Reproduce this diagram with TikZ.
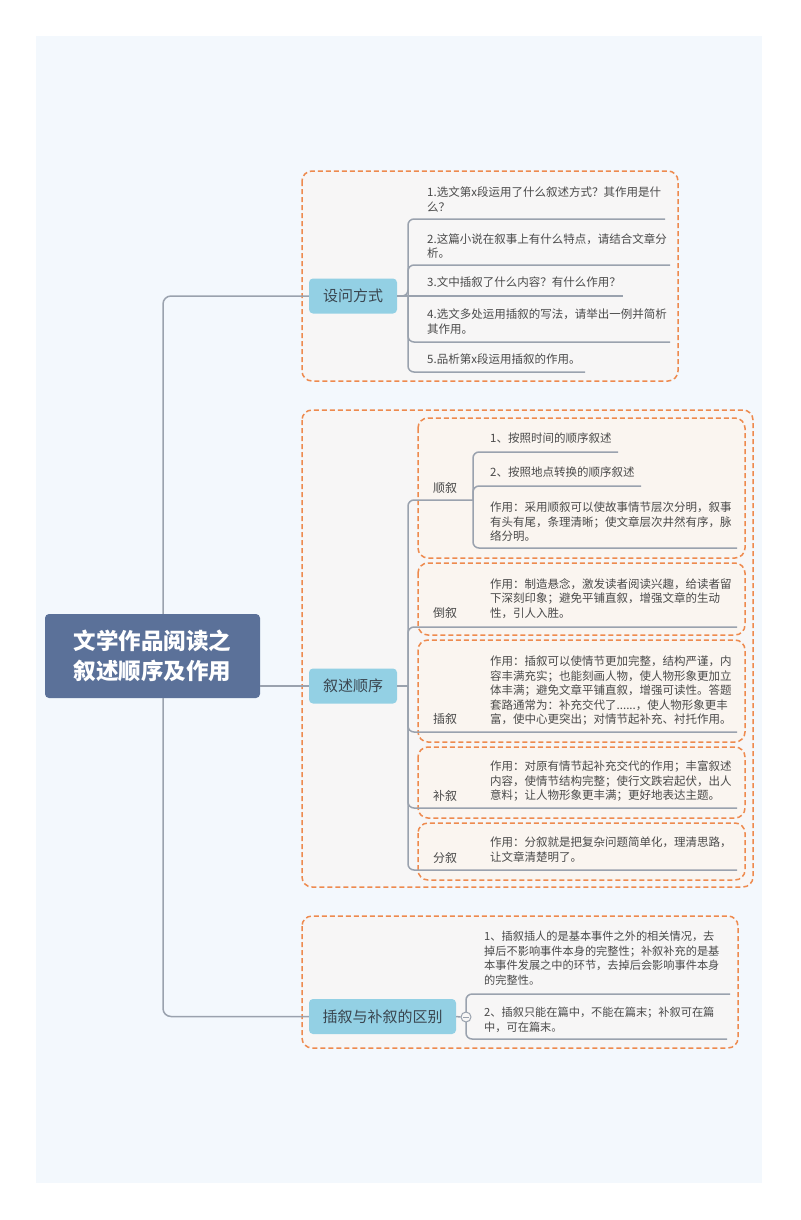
\documentclass[tikz,border=0pt]{standalone}
\usepackage{fontspec}
\setmainfont{Noto Sans CJK SC}
\definecolor{bgc}{HTML}{F3F8FD}
\definecolor{boxc}{HTML}{F7F6F6}
\definecolor{innc}{HTML}{FAF5F0}
\definecolor{dashc}{HTML}{EE8A4E}
\definecolor{linec}{HTML}{9AA2AE}
\definecolor{rootc}{HTML}{5B7199}
\definecolor{brc}{HTML}{93D0E4}
\definecolor{txtc}{HTML}{4A4A4A}
\definecolor{brtxt}{HTML}{3A4650}
\begin{document}
\begin{tikzpicture}[x=1pt,y=-1pt,
  obox/.style={draw=dashc, line width=1.5pt, dash pattern=on 5pt off 3pt, rounded corners=10pt},
  conn/.style={draw=linec, line width=1.5pt, rounded corners=6pt},
  rootnode/.style={fill=rootc, rounded corners=4pt, text=white, font=\fontsize{22.5}{30}\selectfont\bfseries, align=center, minimum width=215pt, minimum height=84pt, inner sep=0pt},
  brnode/.style={fill=brc, rounded corners=4pt, text=brtxt, font=\fontsize{15}{18}\selectfont, minimum height=35pt, inner sep=0pt},
  itm/.style={anchor=north west, inner sep=0pt, align=left, text=txtc, font=\fontsize{11.5}{14.5}\selectfont},
  itmb/.style={anchor=north west, inner sep=0pt, align=left, text=txtc, font=\fontsize{11.2}{14.6}\selectfont},
  lbl/.style={anchor=center, inner sep=0pt, text=txtc, font=\fontsize{12}{14}\selectfont},
]
\useasboundingbox (0,0) rectangle (800,1220);
\fill[bgc] (36,36) rectangle (762,1183);

% dashed frames
\path[obox, fill=boxc] (302,171) rectangle (678,381);
\path[obox, fill=boxc] (302,410) rectangle (753,887);
\path[obox, fill=innc] (418,418) rectangle (745,558);
\path[obox, fill=innc] (418,563) rectangle (745,635);
\path[obox, fill=innc] (418,640) rectangle (745,742);
\path[obox, fill=innc] (418,747) rectangle (745,818);
\path[obox, fill=innc] (418,823) rectangle (745,880);
\path[obox, fill=boxc] (302,916) rectangle (738,1048);

% root and branch nodes
\node[rootnode] (root) at (152.5,656) {文学作品阅读之\\叙述顺序及作用};
\node[brnode, minimum width=88pt] (b1) at (353,296) {设问方式};
\node[brnode, minimum width=88pt] (b2) at (353,686) {叙述顺序};
\node[brnode, minimum width=147pt] (b3) at (382.5,1016.5) {插叙与补叙的区别};

% trunk
\draw[conn, rounded corners=8pt] ([xshift=10.5pt]root.north) |- (b1.west);
\draw[conn] (root.east |- b2.west) -- (b2.west);
\draw[conn, rounded corners=8pt] ([xshift=10.5pt]root.south) |- (b3.west);

% ---- branch 1
\coordinate (j1) at (408,296);
\draw[conn] (b1.east) -- (623,296);
\draw[conn] (b1.east) -- (j1) |- (665,219);
\draw[conn] (j1) |- (670,265);
\draw[conn] (j1) |- (670,342);
\draw[conn] (j1) |- (585,372);
\node[itm] (q1) at (427,187) {1.选文第x段运用了什么叙述方式？其作用是什\\么？};
\node[itm] (q2) at (427,233) {2.这篇小说在叙事上有什么特点，请结合文章分\\析。};
\node[itm] (q3) at (427,277) {3.文中插叙了什么内容？有什么作用？};
\node[itm] (q4) at (427,309) {4.选文多处运用插叙的写法，请举出一例并简析\\其作用。};
\node[itm] (q5) at (427,354) {5.品析第x段运用插叙的作用。};

% ---- branch 2
\coordinate (j2) at (408,686);
\draw[conn] (b2.east) -- (j2);
\coordinate (s1) at (473,500);
\draw[conn] (j2) |- (s1);
\draw[conn] (j2) |- (737,627);
\draw[conn] (j2) |- (737,732);
\draw[conn] (j2) |- (737,808);
\draw[conn] (j2) |- (737,870);
\draw[conn] (s1) |- (618,452);
\draw[conn] (s1) |- (641,486);
\draw[conn] (s1) |- (737,548);

\node[lbl] (l1) at (445,488) {顺叙};
\node[lbl] (l2) at (445,613) {倒叙};
\node[lbl] (l3) at (445,719) {插叙};
\node[lbl] (l4) at (445,796) {补叙};
\node[lbl] (l5) at (445,858) {分叙};

\node[itm] (a1) at (490,433) {1、按照时间的顺序叙述};
\node[itm] (a2) at (490,467) {2、按照地点转换的顺序叙述};
\node[itm] (a3) at (490,502) {作用：采用顺叙可以使故事情节层次分明，叙事\\有头有尾，条理清晰；使文章层次井然有序，脉\\络分明。};
\node[itm] (a4) at (490,578) {作用：制造悬念，激发读者阅读兴趣，给读者留\\下深刻印象；避免平铺直叙，增强文章的生动\\性，引人入胜。};
\node[itm] (a5) at (490,656) {作用：插叙可以使情节更加完整，结构严谨，内\\容丰满充实；也能刻画人物，使人物形象更加立\\体丰满；避免文章平铺直叙，增强可读性。答题\\套路通常为：补充交代了......，使人物形象更丰\\富，使中心更突出；对情节起补充、衬托作用。};
\node[itm] (a6) at (490,761) {作用：对原有情节起补充交代的作用；丰富叙述\\内容，使情节结构完整；使行文跌宕起伏，出人\\意料；让人物形象更丰满；更好地表达主题。};
\node[itm] (a7) at (490,837) {作用：分叙就是把复杂问题简单化，理清思路，\\让文章清楚明了。};

% ---- branch 3
\coordinate (j3) at (466,1017);
\draw[conn] (j3) |- (730,994);
\draw[conn] (j3) |- (727,1039);
\node[circle, draw=linec, line width=1pt, fill=boxc, minimum size=10pt, inner sep=0pt] (col) at (j3) {};
\draw[linec, line width=0.8pt] ([xshift=-3pt]col.center) -- ([xshift=3pt]col.center);
\draw[conn] (b3.east) -- (col.west);
\node[itmb] (c1) at (484,931) {1、插叙插人的是基本事件之外的相关情况，去\\掉后不影响事件本身的完整性；补叙补充的是基\\本事件发展之中的环节，去掉后会影响事件本身\\的完整性。};
\node[itmb] (c2) at (484,1007) {2、插叙只能在篇中，不能在篇末；补叙可在篇\\中，可在篇末。};
\end{tikzpicture}
\end{document}
